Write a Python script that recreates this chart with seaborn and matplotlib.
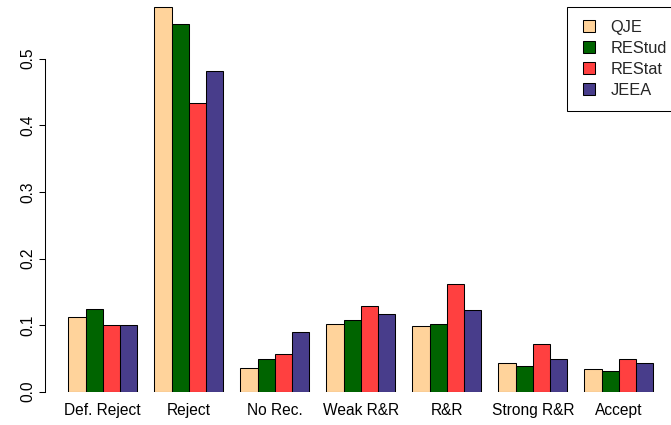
import numpy as np
import pandas as pd
import matplotlib
matplotlib.use("Agg")
import matplotlib.pyplot as plt
import seaborn as sns
from matplotlib.lines import Line2D

# --- data (shares of referee recommendations by journal) ---
decisions = ["Def. Reject", "Reject", "No Rec.", "Weak R&R", "R&R", "Strong R&R", "Accept"]
journals = ["QJE", "REStud", "REStat", "JEEA"]
qje    = [0.112, 0.578, 0.035, 0.102, 0.099, 0.043, 0.034]
restud = [0.124, 0.552, 0.049, 0.107, 0.101, 0.039, 0.031]
restat = [0.100, 0.433, 0.057, 0.129, 0.162, 0.072, 0.049]
jeea   = [0.100, 0.481, 0.089, 0.117, 0.122, 0.049, 0.043]
colors = ["#FFD39B", "#006400", "#FF4040", "#483D8B"]
y_ticks = [0.0, 0.1, 0.2, 0.3, 0.4, 0.5]

df = pd.DataFrame({
    "decision": np.tile(decisions, len(journals)),
    "journal":  np.repeat(journals, len(decisions)),
    "share":    np.concatenate([qje, restud, restat, jeea]),
})

sns.set_style("white")
plt.rcParams.update({
    "font.family": ["Liberation Sans", "DejaVu Sans"],
    "font.size":   11.2,
})

W, H = 671, 425
fig = plt.figure(figsize=(W / 100, H / 100), dpi=100)
# axes placed in pixel units to mimic the base-R barplot region
ax = fig.add_axes([45 / W, 33.3 / H, (W - 45) / W, 391.7 / H])

sns.barplot(
    data=df, x="decision", y="share", hue="journal",
    order=decisions, hue_order=journals, palette=colors,
    saturation=1, width=0.8, gap=0, edgecolor="black",
    linewidth=0.75, legend=False, errorbar=None, ax=ax,
)

ax.set_xlim(-0.672, 6.607)
ax.set_ylim(0, 391.7 / 666)
ax.set_xlabel("")
ax.set_ylabel("")

for side in ["top", "right", "bottom"]:
    ax.spines[side].set_visible(False)
ax.spines["left"].set_bounds(0, 0.5)
ax.spines["left"].set_linewidth(0.75)
ax.spines["left"].set_color("black")

ax.set_yticks(y_ticks)
ax.set_yticklabels([f"{t:.1f}" for t in y_ticks], rotation=90, va="center")
ax.tick_params(axis="y", left=True, length=4.3, width=0.75, pad=2.5,
               labelsize=11.2, colors="black")
ax.tick_params(axis="x", bottom=False, length=0, pad=8, labelsize=11.2,
               colors="black")

handles = [
    Line2D([], [], marker="s", linestyle="none", markersize=8,
           markerfacecolor=c, markeredgecolor="black", markeredgewidth=0.75)
    for c in colors
]
leg = fig.legend(
    handles, journals, loc="upper left",
    bbox_to_anchor=(567 / W, 1 - 6.7 / H), borderaxespad=0,
    frameon=True, fancybox=False, shadow=False, fontsize=11.8,
    borderpad=0.82, handlelength=1.1, handletextpad=0.72,
    labelspacing=0.36,
)
leg.get_frame().set_edgecolor("black")
leg.get_frame().set_linewidth(0.75)
leg.get_frame().set_alpha(1)

fig.savefig("out.png", dpi=100)
plt.close(fig)
